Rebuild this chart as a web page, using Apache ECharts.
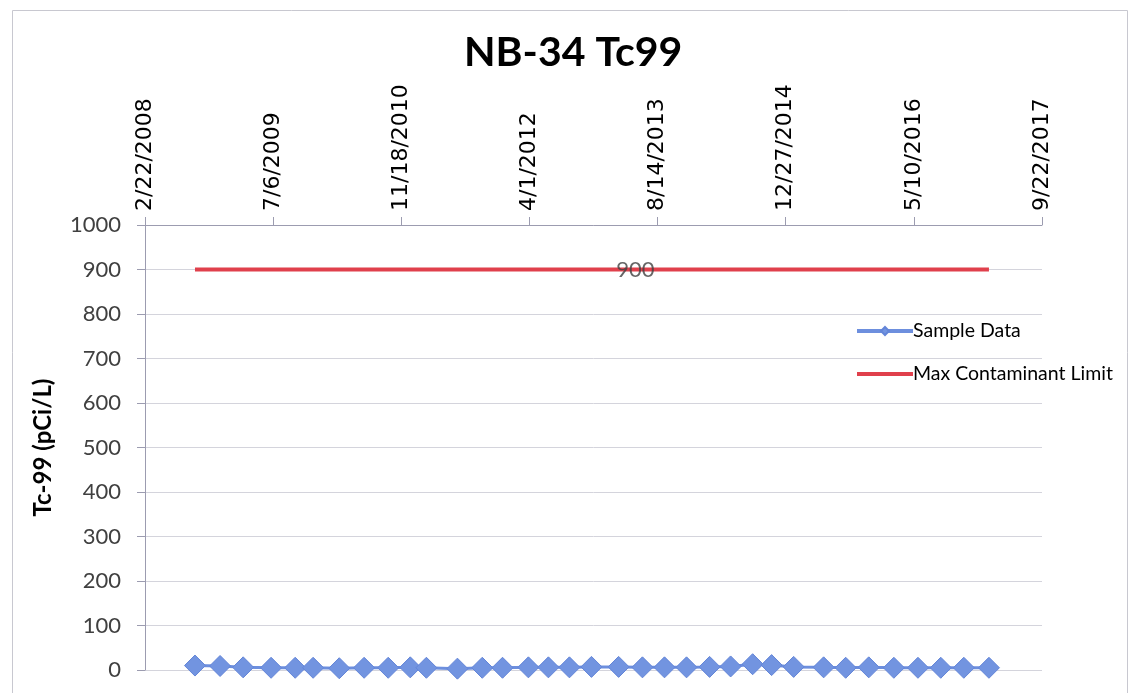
<!DOCTYPE html>
<html>
<head>
<meta charset="utf-8">
<script src="https://cdn.jsdelivr.net/npm/echarts@6/dist/echarts.min.js"></script>
<style>
html,body{margin:0;padding:0;background:#fff;}
#chart{width:1132px;height:693px;}
</style>
</head>
<body>
<div id="chart"></div>
<script>
// ---- data ----
const chartTitle = 'NB-34 Tc99';
const yAxisTitle = 'Tc-99 (pCi/L)';
const seriesNames = ['Sample Data', 'Max Contaminant Limit'];
const sampleDates = ['2008-09-04','2008-12-11','2009-03-11','2009-06-28','2009-09-30','2009-12-09','2010-03-21','2010-06-26','2010-09-28','2010-12-23','2011-02-24','2011-06-25','2011-09-30','2011-12-18','2012-03-28','2012-06-14','2012-09-04','2012-11-29','2013-03-15','2013-06-16','2013-09-10','2013-12-05','2014-03-05','2014-05-26','2014-08-20','2014-11-02','2015-01-27','2015-05-24','2015-08-18','2015-11-16','2016-02-22','2016-05-26','2016-08-23','2016-11-21','2017-02-27'];
const sampleValues = [10,9,6,5,5,5,4,5,5,6,5,3,5,5,6,6,6,7,7,6,6,6,7,8,13,11,7,6,5,6,5,5,5,5,5];
const limitValue = 900;
const limitLabelIndex = 19;
// x axis: Excel serial dates (2/22/2008 = 39500, 9/22/2017 = 43000), ticks every 500 days
const xMin = 39500, xMax = 43000, xInterval = 500;
const yMin = 0, yMax = 1000, yInterval = 100;

// ---- helpers ----
const EPOCH = Date.UTC(1899, 11, 30);
function toSerial(iso){ const p = iso.split('-').map(Number); return Math.round((Date.UTC(p[0], p[1]-1, p[2]) - EPOCH)/86400000); }
function serialLabel(v){ const d = new Date(EPOCH + v*86400000); return (d.getUTCMonth()+1) + '/' + d.getUTCDate() + '/' + d.getUTCFullYear(); }

const sampleData = sampleDates.map((d,i)=>[toSerial(d), sampleValues[i]]);
const limitData = sampleDates.map(d=>[toSerial(d), limitValue]);

const chart = echarts.init(document.getElementById('chart'), null, {renderer:'canvas'});
chart.setOption({
  backgroundColor:'#fff',
  animation:false,
  graphic:[{type:'rect', left:10, top:8, shape:{width:1115, height:700}, style:{fill:'none', stroke:'#c8c8d0', lineWidth:1}, silent:true}],
  title:{text:chartTitle, left:459, top:27, textStyle:{fontFamily:'Lato', fontWeight:'bold', fontSize:41, color:'#000'}},
  grid:{left:145, right:90, top:225, bottom:23, containLabel:false},
  legend:{
    orient:'vertical', left:850, top:316, itemGap:23, itemWidth:56, itemHeight:10,
    textStyle:{fontFamily:'Lato', fontSize:19.5, color:'#000', padding:[0,0,0,-5]},
    data:[
      {name:seriesNames[0], lineStyle:{width:4}},
      {name:seriesNames[1], icon:'path://M0,0 M0,3 L56,3 L56,7 L0,7 Z M56,10'}
    ]
  },
  xAxis:{
    type:'value', position:'top', min:xMin, max:xMax, interval:xInterval,
    axisLine:{show:true, onZero:false, lineStyle:{color:'#9c9cb0', width:1}},
    axisTick:{show:true, inside:false, length:8, lineStyle:{color:'#9c9cb0'}},
    splitLine:{show:false},
    axisLabel:{rotate:-90, margin:14, formatter:serialLabel, fontFamily:'DejaVu Sans', fontSize:22, color:'#000', showMinLabel:true, showMaxLabel:true}
  },
  yAxis:{
    type:'value', min:yMin, max:yMax, interval:yInterval,
    name:yAxisTitle, nameLocation:'middle', nameGap:90,
    nameTextStyle:{fontFamily:'Lato', fontWeight:'bold', fontSize:24, color:'#000'},
    axisLine:{show:true, onZero:false, lineStyle:{color:'#9c9cb0'}},
    axisTick:{show:true, length:8, lineStyle:{color:'#9c9cb0'}},
    splitLine:{show:true, lineStyle:{color:'#d4d4dc', width:1}},
    axisLabel:{margin:24, fontFamily:'Lato', fontSize:22, color:'#404040', formatter:v=>String(v)}
  },
  series:[
    {
      name:seriesNames[0], type:'line', data:sampleData,
      symbol:'diamond', symbolSize:21,
      lineStyle:{color:'#6d8fde', width:3},
      itemStyle:{color:'#7294e0', borderColor:'#6385d8', borderWidth:1},
      z:3
    },
    {
      name:seriesNames[1], type:'line', data:limitData,
      symbol:'none', showSymbol:false,
      lineStyle:{color:'#e0404c', width:4},
      itemStyle:{color:'#e0404c'},
      z:2
    },
    {
      name:'label', type:'scatter', data:[limitData[limitLabelIndex]], symbolSize:0, silent:true,
      label:{show:true, position:'inside', offset:[-7,0], formatter:()=>String(limitValue), fontFamily:'Lato', fontSize:22, color:'#404040'},
      z:4
    }
  ]
});
</script>
</body>
</html>
